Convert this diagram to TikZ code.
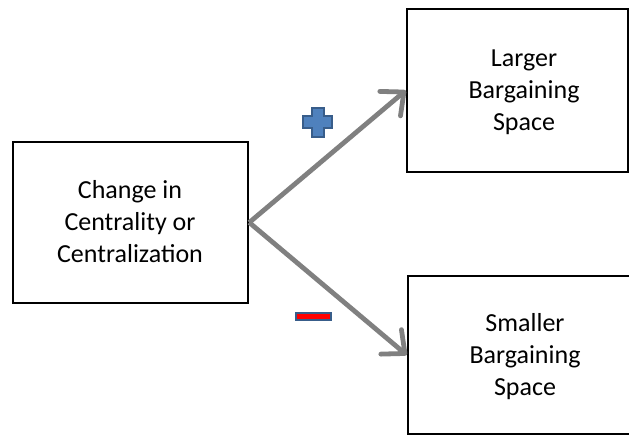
\documentclass[tikz,border=0pt]{standalone}
\usepackage{fontspec}
\setmainfont{Carlito}
\usetikzlibrary{arrows.meta}
\definecolor{arrowgray}{RGB}{128,128,128}
\definecolor{signfill}{RGB}{79,129,189}
\definecolor{signedge}{RGB}{56,93,138}
\begin{document}
\begin{tikzpicture}[x=1pt,y=-1pt,
  box/.style={draw=black, line width=2.5pt, fill=white, inner sep=0pt},
  lbl/.style={align=center, font=\fontsize{26}{32}\selectfont, inner sep=0pt},
  conn/.style={draw=arrowgray, line width=4.8pt, -{Straight Barb[round,length=18pt,width=32pt]}}]
\useasboundingbox (0,0) rectangle (629,436);
\clip (0,0) rectangle (629,436);
% boxes
\node[box, minimum width=235pt, minimum height=161pt] (src) at (130.5,222.5) {};
\node[box, minimum width=221pt, minimum height=163pt] (top) at (517.5,90.5) {};
\node[box, minimum width=237pt, minimum height=158pt] (bot) at (526.5,355) {};
% labels
\node[lbl] (srct) at (130,222) {Change in\\Centrality or\\Centralization};
\node[lbl] (topt) at (524,92) {Larger\\Bargaining\\Space};
\node[lbl] (bott) at (525,357) {Smaller\\Bargaining\\Space};
% connectors
\draw[conn] (src.east) -- (top.west);
\draw[conn] (src.east) -- (bot.west);
% plus sign
\filldraw[fill=signfill, draw=signedge, line width=2pt]
  (311.5,107.5) -- (323.5,107.5) -- (323.5,116) -- (332,116) -- (332,128) -- (323.5,128)
  -- (323.5,136.5) -- (311.5,136.5) -- (311.5,128) -- (303,128) -- (303,116) -- (311.5,116) -- cycle;
% minus sign
\filldraw[fill=red, draw=signedge, line width=2.5pt] (296,313) rectangle (331,320);
\end{tikzpicture}
\end{document}
